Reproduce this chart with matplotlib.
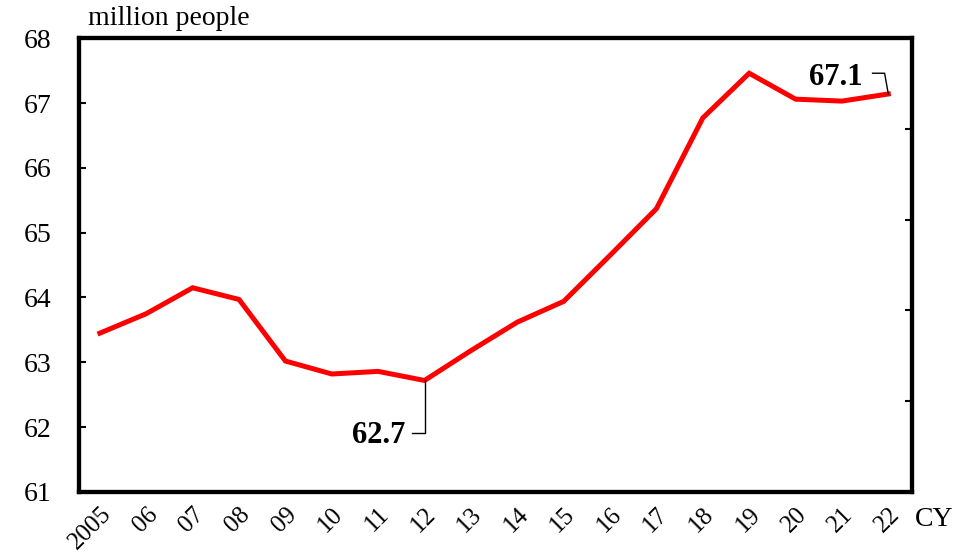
import numpy as np
import matplotlib.pyplot as plt

plt.rcParams['font.family'] = ['Liberation Serif', 'DejaVu Serif']

years = np.arange(2005, 2023)
year_labels = ["2005", "06", "07", "08", "09", "10", "11", "12", "13",
               "14", "15", "16", "17", "18", "19", "20", "21", "22"]
people = np.array([63.45, 63.75, 64.15, 63.97, 63.02, 62.82, 62.86, 62.72, 63.18,
                   63.62, 63.94, 64.65, 65.37, 66.77, 67.46, 67.06, 67.03, 67.14])

fig = plt.figure(figsize=(9.68, 5.54), dpi=100)
ax = fig.add_axes([0.0816, 0.112, 0.861, 0.819])

ax.plot(years, people, color="#ff0000", linewidth=3.6, solid_joinstyle="miter")

ax.set_xlim(2004.55, 2022.52)
ax.set_ylim(61, 68)
ax.set_yticks(np.arange(61, 69))
ax.tick_params(axis="y", direction="in", length=5, width=1.5, pad=20, labelsize=20)
ax.set_xticks(years)
ax.set_xticklabels(year_labels, rotation=45, ha="right", va="top",
                   rotation_mode="anchor", fontsize=18)
ax.tick_params(axis="x", length=0, pad=8)
for s in ax.spines.values():
    s.set_linewidth(3)

ax2 = ax.twinx()
ax2.set_ylim(0, 5)
ax2.set_yticks([1, 2, 3, 4])
ax2.set_yticklabels([])
ax2.tick_params(axis="y", direction="in", length=5, width=1.5)
for s in ax2.spines.values():
    s.set_linewidth(3)

# annotations with leader lines
i_min = 7
ax.plot([years[i_min], years[i_min], years[i_min] - 0.27],
        [people[i_min], 61.91, 61.91], color="black", linewidth=1)
ax.text(years[i_min] - 0.42, 61.87, f"{people[i_min]:.1f}", ha="right", va="center",
        fontsize=22, fontweight="bold")
i_last = 17
ax.plot([years[i_last], years[i_last] - 0.08, years[i_last] - 0.34],
        [people[i_last], 67.46, 67.46], color="black", linewidth=1)
ax.text(years[i_last] - 0.56, 67.40, f"{people[i_last]:.1f}", ha="right", va="center",
        fontsize=22, fontweight="bold")

fig.text(0.091, 0.967, "million people", fontsize=20, ha="left", va="center")
fig.text(0.945, 0.062, "CY", fontsize=20, ha="left", va="center")

fig.savefig("out.png", dpi=100)
